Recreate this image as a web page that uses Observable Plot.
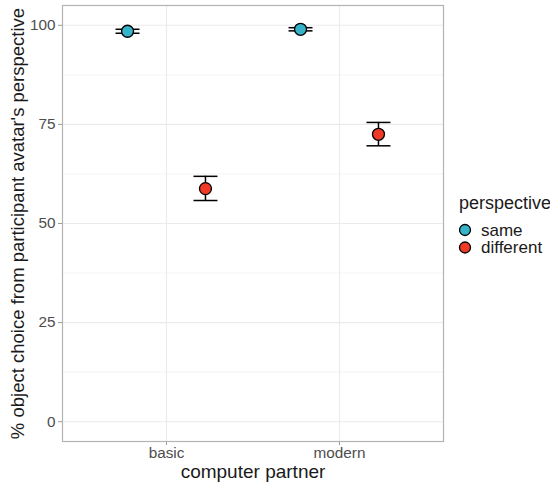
<!DOCTYPE html>
<html>
<head>
<meta charset="utf-8">
<script src="https://cdn.jsdelivr.net/npm/d3@7"></script>
<script src="https://cdn.jsdelivr.net/npm/@observablehq/plot@0.6"></script>
<style>
  body { margin: 0; background: #fff; }
  #chart { position: relative; width: 550px; height: 484px; font-family: "Liberation Sans", Arial, sans-serif; }
  #legend { position: absolute; left: 0; top: 0; pointer-events: none; }
</style>
</head>
<body>
<div id="chart"></div>
<script>
// Partner type on the x axis, avatar perspective as the dodged group
const partners = ["basic", "modern"];
const perspectives = ["same", "different"];
const colors = ["#36B3C8", "#EF3A25"];

// Mean % choice with error-bar bounds, one value per partner
const meanSame = [98.5, 99.0];
const lowerSame = [98.0, 98.6];
const upperSame = [99.0, 99.4];
const meanDifferent = [58.8, 72.5];
const lowerDifferent = [55.8, 69.6];
const upperDifferent = [61.9, 75.5];

const yTicks = [0, 25, 50, 75, 100];
const yMinor = [12.5, 37.5, 62.5, 87.5];

const rows = [];
partners.forEach((p, i) => {
  rows.push({partner: p, perspective: "same", mean: meanSame[i], lower: lowerSame[i], upper: upperSame[i]});
  rows.push({partner: p, perspective: "different", mean: meanDifferent[i], lower: lowerDifferent[i], upper: upperDifferent[i]});
});

const W = 550, H = 484;
const mL = 62, mR = 107, mT = 5, mB = 43;
const pad = 0.6;
const step = (W - mL - mR) / (partners.length - 1 + 2 * pad);
const dodge = 0.225 * step;

// horizontal cap symbol for the error bars
const capSymbol = {
  draw(ctx, size) {
    const r = Math.sqrt(size / Math.PI);
    ctx.moveTo(-r, 0);
    ctx.lineTo(r, 0);
  }
};

function groupMarks(key, sign) {
  const data = rows.filter(d => d.perspective === key);
  const dx = sign * dodge;
  return [
    Plot.ruleX(data, {x: "partner", y1: "lower", y2: "upper", dx, stroke: "#000", strokeWidth: 1.5}),
    Plot.dot(data, {x: "partner", y: "upper", dx, symbol: capSymbol, r: 12, fill: "none", stroke: "#000", strokeWidth: 1.5}),
    Plot.dot(data, {x: "partner", y: "lower", dx, symbol: capSymbol, r: 12, fill: "none", stroke: "#000", strokeWidth: 1.5}),
    Plot.dot(data, {x: "partner", y: "mean", dx, r: 6, fill: "perspective", stroke: "#000", strokeWidth: 1.3})
  ];
}

const chart = Plot.plot({
  width: W,
  height: H,
  marginLeft: mL,
  marginRight: mR,
  marginTop: mT,
  marginBottom: mB,
  style: {fontFamily: "'Liberation Sans', Arial, sans-serif", background: "#fff"},
  x: {type: "point", domain: partners, padding: pad},
  y: {domain: [-5, 105]},
  color: {domain: perspectives, range: colors},
  marks: [
    Plot.gridY(yMinor, {stroke: "#ededed", strokeOpacity: 1, strokeWidth: 0.6}),
    Plot.gridY(yTicks, {stroke: "#ebebeb", strokeOpacity: 1, strokeWidth: 1.1}),
    Plot.gridX(partners, {stroke: "#ebebeb", strokeOpacity: 1, strokeWidth: 1.1}),
    Plot.axisY(yTicks, {tickSize: 4, tickPadding: 3, fontSize: 15.3, fill: "#4d4d4d", stroke: "#9a9a9a", label: null}),
    Plot.axisX({tickSize: 4, tickPadding: 2, fontSize: 15.3, fill: "#4d4d4d", stroke: "#9a9a9a", label: null}),
    Plot.text(["% object choice from participant avatar's perspective"], {
      frameAnchor: "left", dx: -44, rotate: -90, textAnchor: "middle", lineAnchor: "middle",
      fontSize: 18.5, fill: "#1a1a1a"
    }),
    Plot.text(["computer partner"], {
      frameAnchor: "bottom", dy: 30, textAnchor: "middle", lineAnchor: "middle",
      fontSize: 19, fill: "#1a1a1a"
    }),
    ...groupMarks("same", -1),
    ...groupMarks("different", 1),
    Plot.frame({stroke: "#b3b3b3", strokeWidth: 1.2})
  ]
});

const root = document.getElementById("chart");
root.appendChild(chart);

// Legend in the right margin
const legend = d3.select(root).append("svg")
  .attr("id", "legend")
  .attr("width", W)
  .attr("height", H)
  .style("font-family", "'Liberation Sans', Arial, sans-serif");

legend.append("text")
  .attr("x", 459).attr("y", 209)
  .attr("font-size", 18).attr("fill", "#1a1a1a")
  .text("perspective");

perspectives.forEach((p, i) => {
  const cy = 230 + i * 17.5;
  legend.append("circle")
    .attr("cx", 465).attr("cy", cy).attr("r", 5.5)
    .attr("fill", colors[i]).attr("stroke", "#000").attr("stroke-width", 1.3);
  legend.append("text")
    .attr("x", 481).attr("y", cy + 5.5)
    .attr("font-size", 17).attr("fill", "#1a1a1a")
    .text(p);
});
</script>
</body>
</html>
